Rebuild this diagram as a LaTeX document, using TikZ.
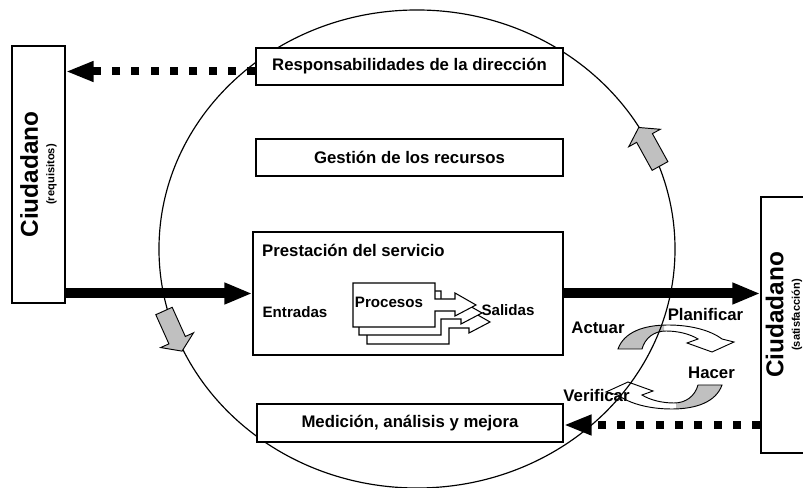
\documentclass[tikz,border=0pt]{standalone}
\usepackage{fontspec}
\setmainfont{Liberation Sans}
\usetikzlibrary{arrows.meta,calc}

\definecolor{arrowgray}{RGB}{192,192,192}

\tikzset{
  box/.style={draw, line width=1.1pt, fill=white, inner sep=0pt,
    font=\bfseries\fontsize{14.3}{16}\selectfont},
  bigtext/.style={inner sep=0pt, font=\bfseries\fontsize{14.3}{16}\selectfont},
  smalltext/.style={inner sep=0pt, font=\bfseries\fontsize{12.9}{15}\selectfont},
  flow/.style={line width=0.3cm, -{Triangle[length=0.84cm,width=0.6cm]}},
  dotflow/.style={line width=0.24cm, dash pattern=on 0.24cm off 0.34cm,
    -{Triangle[length=0.84cm,width=0.57cm]}},
  grayarrow/.style={draw, line width=0.8pt, fill=arrowgray, line join=miter},
  procline/.style={draw, line width=0.9pt, fill=white}
}

% one process card with its outgoing arrow
\newcommand{\procshape}[1]{%
  \draw[procline, shift={#1}] (353,283) -- (435,283) -- (435,299) -- (455,299)
    -- (455,293) -- (476,305) -- (455,316) -- (455,311) -- (435,311)
    -- (435,327) -- (353,327) -- cycle;}

% one half of the PDCA wheel
\newcommand{\pdcashape}[1]{%
  \path[#1] (618,349) .. controls (624,332) and (644,325) .. (668,325)
    .. controls (690,325) and (710,330) .. (722,339) -- (734,342) -- (712,352)
    -- (687,343) -- (698,339) .. controls (690,334) and (678,331) .. (666,331)
    .. controls (654,331) and (645,338) .. (642,349) -- cycle;}

% gray block arrow on the circle: tail, angle
\newcommand{\blockarrow}[2]{%
  \draw[grayarrow, shift={#1}, rotate=#2] (0,-9) -- (32,-9) -- (32,-18)
    -- (44,0) -- (32,18) -- (32,9) -- (0,9) -- cycle;}

\begin{document}
\begin{tikzpicture}[x=0.03cm, y=-0.03cm]
  \useasboundingbox (0,0) rectangle (803,488);
  \clip (0,0) rectangle (803,488);

  % PDCA wheel
  \foreach \rot in {0,180} {
    \begin{scope}[rotate around={\rot:(670,367)}]
      \pdcashape{fill=white}
      \begin{scope}
        \clip (600,300) rectangle (664,360);
        \pdcashape{fill=arrowgray}
      \end{scope}
      \pdcashape{draw, line width=0.8pt}
    \end{scope}
  }

  % Circle
  \draw[line width=1pt] (417,249) ellipse [x radius=7.74cm, y radius=7.17cm];

  % Boxes (the side boxes are turned, so their page-right side is .south)
  \node[box, rotate=90, minimum width=7.71cm, minimum height=1.59cm, align=center]
    (ciudL) at (38.5,174.5)
    {{\fontsize{20.8}{24}\selectfont Ciudadano}\\[-2pt]{\fontsize{9.5}{10}\selectfont (requisitos)}};
  \node[box, rotate=90, minimum width=7.68cm, minimum height=1.62cm] (ciudR) at (788,325) {};
  \node[box, minimum width=9.21cm, minimum height=1.11cm] (resp) at (409.5,66.5)
    {Responsabilidades de la dirección};
  \node[box, minimum width=9.21cm, minimum height=1.11cm] (gest) at (409.5,157.5)
    {Gestión de los recursos};
  \node[box, minimum width=9.3cm, minimum height=3.69cm] (presta) at (408,293.5) {};
  \node[box, minimum width=9.18cm, minimum height=1.14cm] (med) at (410,423)
    {Medición, análisis y mejora};

  % Processes
  \procshape{(14,17)}
  \procshape{(6,8)}
  \procshape{(0,0)}

  % Labels
  \node[bigtext, anchor=west] (prestalabel) at (262,250) {Prestación del servicio};
  \node[smalltext] (entradas) at (295,312) {Entradas};
  \node[smalltext] (procesos) at (389,302) {Procesos};
  \node[smalltext] (salidas) at (508,310) {Salidas};
  \node[bigtext] (actuar) at (598,328) {Actuar};
  \node[bigtext] (planificar) at (705.5,315) {Planificar};
  \node[bigtext] (hacer) at (711.5,373) {Hacer};
  \node[bigtext] (verificar) at (596.5,396) {Verificar};
  \node[bigtext, rotate=90, align=center] (ciudRlabel) at (784,315)
    {{\fontsize{20.8}{24}\selectfont Ciudadano}\\[-2pt]{\fontsize{9.5}{10}\selectfont (satisfacción)}};

  % Arrows
  \coordinate (respout) at ($(resp.west)+(0,5)$);
  \draw[dotflow] (respout) -- (respout -| ciudL.south);
  \draw[dotflow] ($(med.east -| ciudR.north)+(0,2)$) -- ($(med.east)+(0,2)$);
  \draw[flow] (ciudL.south |- presta.west) -- (presta.west);
  \draw[flow] (presta.east) -- (presta.east -| ciudR.north);

  % Cycle arrows on the circle
  \blockarrow{(660,166)}{118.93}
  \blockarrow{(164,311)}{-65.77}
\end{tikzpicture}
\end{document}
